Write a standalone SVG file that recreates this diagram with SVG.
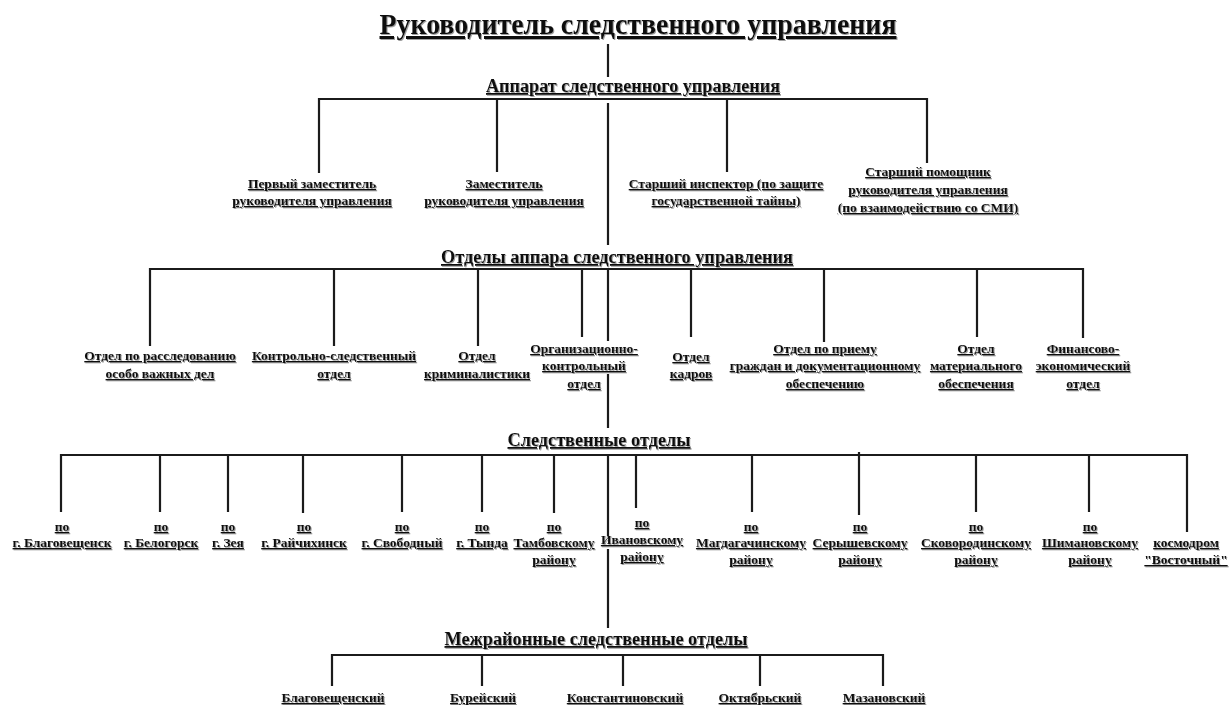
<svg xmlns="http://www.w3.org/2000/svg" width="1229" height="705" viewBox="0 0 1229 705">
<defs>
<filter id="sh" x="-5%" y="-20%" width="110%" height="140%">
<feDropShadow dx="1" dy="1" stdDeviation="0.6" flood-color="#777" flood-opacity="0.7"/>
</filter>
<style>
text{font-family:"Liberation Serif","Times New Roman",serif;font-weight:bold;fill:#111;text-anchor:middle;text-decoration:underline;filter:url(#sh)}
.t0{font-size:30px}
.h{font-size:18px}
.n{font-size:13.5px}
.c line{stroke:#1b1b1b;stroke-width:2.2;stroke-linecap:butt}
</style>
</defs>
<rect width="1229" height="705" fill="#fff"/>

<g id="connectors" class="c">
<line x1="608" y1="44" x2="608" y2="77"/>
<line x1="319" y1="99" x2="927" y2="99"/>
<line x1="319" y1="98" x2="319" y2="173"/>
<line x1="497" y1="98" x2="497" y2="172"/>
<line x1="727" y1="98" x2="727" y2="172"/>
<line x1="927" y1="98" x2="927" y2="163"/>
<line x1="608" y1="103" x2="608" y2="245"/>
<line x1="150" y1="269" x2="1083" y2="269"/>
<line x1="150" y1="268" x2="150" y2="346"/>
<line x1="334" y1="268" x2="334" y2="346"/>
<line x1="478" y1="268" x2="478" y2="346"/>
<line x1="582" y1="268" x2="582" y2="337"/>
<line x1="608" y1="268" x2="608" y2="341"/>
<line x1="691" y1="268" x2="691" y2="337"/>
<line x1="824" y1="268" x2="824" y2="342"/>
<line x1="977" y1="268" x2="977" y2="337"/>
<line x1="1083" y1="268" x2="1083" y2="338"/>
<line x1="608" y1="374" x2="608" y2="428"/>
<line x1="61" y1="455" x2="1187" y2="455"/>
<line x1="61" y1="454" x2="61" y2="512"/>
<line x1="160" y1="454" x2="160" y2="512"/>
<line x1="228" y1="454" x2="228" y2="512"/>
<line x1="303" y1="454" x2="303" y2="513"/>
<line x1="402" y1="454" x2="402" y2="512"/>
<line x1="482" y1="454" x2="482" y2="512"/>
<line x1="554" y1="454" x2="554" y2="513"/>
<line x1="608" y1="454" x2="608" y2="536"/>
<line x1="636" y1="454" x2="636" y2="508"/>
<line x1="752" y1="454" x2="752" y2="512"/>
<line x1="859" y1="452" x2="859" y2="515"/>
<line x1="976" y1="454" x2="976" y2="512"/>
<line x1="1089" y1="454" x2="1089" y2="512"/>
<line x1="1187" y1="454" x2="1187" y2="532"/>
<line x1="608" y1="549" x2="608" y2="628"/>
<line x1="332" y1="655" x2="883" y2="655"/>
<line x1="332" y1="654" x2="332" y2="686"/>
<line x1="482" y1="654" x2="482" y2="686"/>
<line x1="623" y1="654" x2="623" y2="686"/>
<line x1="760" y1="654" x2="760" y2="686"/>
<line x1="883" y1="654" x2="883" y2="686"/>
</g>

<g id="n-head"><text class="t0" x="638" y="34" textLength="517" lengthAdjust="spacingAndGlyphs">Руководитель следственного управления</text></g>
<g id="n-apparat"><text class="h" x="633" y="92" textLength="294" lengthAdjust="spacingAndGlyphs">Аппарат следственного управления</text></g>

<g id="n-zam1"><text class="n"><tspan x="312" y="188">Первый заместитель</tspan><tspan x="312" y="205">руководителя управления</tspan></text></g>
<g id="n-zam2"><text class="n"><tspan x="504" y="188">Заместитель</tspan><tspan x="504" y="205">руководителя управления</tspan></text></g>
<g id="n-insp"><text class="n"><tspan x="726" y="188">Старший инспектор (по защите</tspan><tspan x="726" y="205">государственной тайны)</tspan></text></g>
<g id="n-pom"><text class="n"><tspan x="928" y="176">Старший помощник</tspan><tspan x="928" y="194">руководителя управления</tspan><tspan x="928" y="212">(по взаимодействию со СМИ)</tspan></text></g>

<g id="n-otdely"><text class="h" x="617" y="263" textLength="352" lengthAdjust="spacingAndGlyphs">Отделы аппара следственного управления</text></g>

<g id="n-ovd"><text class="n"><tspan x="160" y="360">Отдел по расследованию</tspan><tspan x="160" y="378">особо важных дел</tspan></text></g>
<g id="n-ksl"><text class="n"><tspan x="334" y="360">Контрольно-следственный</tspan><tspan x="334" y="378">отдел</tspan></text></g>
<g id="n-krim"><text class="n"><tspan x="477" y="360">Отдел</tspan><tspan x="477" y="378">криминалистики</tspan></text></g>
<g id="n-ok"><text class="n"><tspan x="584" y="353">Организационно-</tspan><tspan x="584" y="370">контрольный</tspan><tspan x="584" y="388">отдел</tspan></text></g>
<g id="n-kadr"><text class="n"><tspan x="691" y="361">Отдел</tspan><tspan x="691" y="378">кадров</tspan></text></g>
<g id="n-priem"><text class="n"><tspan x="825" y="353">Отдел по приему</tspan><tspan x="825" y="370">граждан и документационному</tspan><tspan x="825" y="388">обеспечению</tspan></text></g>
<g id="n-mat"><text class="n"><tspan x="976" y="353">Отдел</tspan><tspan x="976" y="370">материального</tspan><tspan x="976" y="388">обеспечения</tspan></text></g>
<g id="n-fin"><text class="n"><tspan x="1083" y="353">Финансово-</tspan><tspan x="1083" y="370">экономический</tspan><tspan x="1083" y="388">отдел</tspan></text></g>

<g id="n-sled"><text class="h" x="599" y="446" textLength="183" lengthAdjust="spacingAndGlyphs">Следственные отделы</text></g>

<g id="n-blag"><text class="n"><tspan x="62" y="531">по</tspan><tspan x="62" y="547">г. Благовещенск</tspan></text></g>
<g id="n-belg"><text class="n"><tspan x="161" y="531">по</tspan><tspan x="161" y="547">г. Белогорск</tspan></text></g>
<g id="n-zeya"><text class="n"><tspan x="228" y="531">по</tspan><tspan x="228" y="547">г. Зея</tspan></text></g>
<g id="n-raich"><text class="n"><tspan x="304" y="531">по</tspan><tspan x="304" y="547">г. Райчихинск</tspan></text></g>
<g id="n-svob"><text class="n"><tspan x="402" y="531">по</tspan><tspan x="402" y="547">г. Свободный</tspan></text></g>
<g id="n-tynda"><text class="n"><tspan x="482" y="531">по</tspan><tspan x="482" y="547">г. Тында</tspan></text></g>
<g id="n-tamb"><text class="n"><tspan x="554" y="531">по</tspan><tspan x="554" y="547">Тамбовскому</tspan><tspan x="554" y="564">району</tspan></text></g>
<g id="n-ivan"><text class="n"><tspan x="642" y="527">по</tspan><tspan x="642" y="544">Ивановскому</tspan><tspan x="642" y="561">району</tspan></text></g>
<g id="n-magd"><text class="n"><tspan x="751" y="531">по</tspan><tspan x="751" y="547">Магдагачинскому</tspan><tspan x="751" y="564">району</tspan></text></g>
<g id="n-ser"><text class="n"><tspan x="860" y="531">по</tspan><tspan x="860" y="547">Серышевскому</tspan><tspan x="860" y="564">району</tspan></text></g>
<g id="n-skov"><text class="n"><tspan x="976" y="531">по</tspan><tspan x="976" y="547">Сковородинскому</tspan><tspan x="976" y="564">району</tspan></text></g>
<g id="n-shim"><text class="n"><tspan x="1090" y="531">по</tspan><tspan x="1090" y="547">Шимановскому</tspan><tspan x="1090" y="564">району</tspan></text></g>
<g id="n-kosm"><text class="n"><tspan x="1186" y="547">космодром</tspan><tspan x="1186" y="564">"Восточный"</tspan></text></g>

<g id="n-mezh"><text class="h" x="596" y="645" textLength="303" lengthAdjust="spacingAndGlyphs">Межрайонные следственные отделы</text></g>

<g id="n-m1"><text class="n" x="333" y="702">Благовещенский</text></g>
<g id="n-m2"><text class="n" x="483" y="702">Бурейский</text></g>
<g id="n-m3"><text class="n" x="625" y="702">Константиновский</text></g>
<g id="n-m4"><text class="n" x="760" y="702">Октябрьский</text></g>
<g id="n-m5"><text class="n" x="884" y="702">Мазановский</text></g>
</svg>
